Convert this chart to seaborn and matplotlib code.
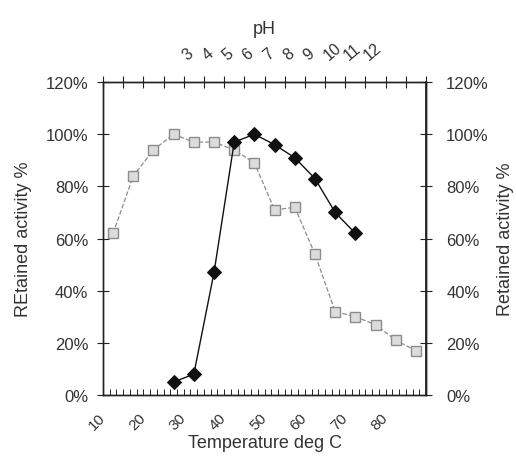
import matplotlib
matplotlib.use('Agg')
import matplotlib.pyplot as plt
import matplotlib.ticker as mticker
import matplotlib.transforms as mtransforms
import seaborn as sns

# ---- data ----
temperature = [10, 15, 20, 25, 30, 35, 40, 45, 50, 55, 60, 65, 70, 75, 80, 85]
temp_activity = [62, 84, 94, 100, 97, 97, 94, 89, 71, 72, 54, 32, 30, 27, 21, 17]
ph_values = [3, 4, 5, 6, 7, 8, 9, 10, 11, 12]
ph_activity = [5, 8, 47, 97, 100, 96, 91, 83, 70, 62]
temp_tick_labels = [10, 20, 30, 40, 50, 60, 70, 80]
ph_tick_labels = [3, 4, 5, 6, 7, 8, 9, 10, 11, 12]
activity_ticks = [0, 20, 40, 60, 80, 100, 120]

sns.set_theme(style='white')
plt.rcParams['font.family'] = ['Liberation Sans', 'DejaVu Sans']
TXT = '#333333'
AXC = '#222222'

fig = plt.figure(figsize=(5.16, 4.77), dpi=100)
ax = fig.add_axes([0.1996, 0.1698, 0.626, 0.656])
ax_top = ax.twiny()

sns.lineplot(x=temperature, y=temp_activity, ax=ax, color='#8c8c8c',
             linestyle='--', linewidth=0.9, marker='s', markersize=6.5,
             markerfacecolor='#dcdcdc', markeredgecolor='#8c8c8c',
             markeredgewidth=1.0)
sns.lineplot(x=ph_values, y=ph_activity, ax=ax_top, color='#111111',
             linewidth=1.0, marker='D', markersize=7,
             markerfacecolor='#111111', markeredgecolor='#111111')

ax.set_xlim(7.5, 87.5)
ax_top.set_xlim(-0.5, 15.5)
ax.set_ylim(0, 120)

for a in (ax, ax_top):
    for s in a.spines.values():
        s.set_visible(True)
        s.set_color(AXC)
        s.set_linewidth(1.0)

# bottom axis
ax.set_xticks(temp_tick_labels)
ax.set_xticklabels([str(t) for t in temp_tick_labels], rotation=45,
                   ha='right', rotation_mode='anchor', color=TXT)
ax.tick_params(axis='x', which='major', length=0, labelsize=11, pad=11,
               bottom=True, top=False)
ax.xaxis.set_minor_locator(mticker.MultipleLocator(5 / 3, offset=7.5 % (5 / 3)))
ax.tick_params(axis='x', which='minor', direction='in', length=4,
               width=0.7, color=AXC, bottom=True, top=False)
off = mtransforms.ScaledTranslation(-11 / 72, 0, fig.dpi_scale_trans)
for lab in ax.get_xticklabels():
    lab.set_transform(lab.get_transform() + off)
ax.set_xlabel('Temperature deg C', fontsize=13, color=TXT, labelpad=1)

# top axis (pH)
ax_top.set_xticks(ph_tick_labels)
ax_top.set_xticklabels([str(p) for p in ph_tick_labels], rotation=40,
                       ha='left', rotation_mode='anchor', color=TXT)
ax_top.tick_params(axis='x', which='major', length=0, labelsize=11.5, pad=14,
                   top=True, bottom=False)
ax_top.xaxis.set_minor_locator(mticker.MultipleLocator(1, offset=0.5))
ax_top.tick_params(axis='x', which='minor', direction='inout', length=9,
                   width=0.8, color=AXC, top=True, bottom=False)
off2 = mtransforms.ScaledTranslation(11 / 72, 0, fig.dpi_scale_trans)
for lab in ax_top.get_xticklabels():
    lab.set_transform(lab.get_transform() + off2)
ax_top.set_xlabel('pH', fontsize=13, color=TXT, labelpad=5)
ax_top.set_ylabel('')

# left y axis
ax.set_yticks(activity_ticks)
ax.yaxis.set_major_formatter(mticker.FuncFormatter(lambda v, p: f'{v:.0f}%'))
ax.tick_params(axis='y', direction='inout', length=9, width=0.8, color=AXC,
               labelsize=12, labelcolor=TXT, pad=6, left=True)
ax.set_ylabel('REtained activity %', fontsize=13, color=TXT, labelpad=10)

# right y axis
sec = ax.secondary_yaxis('right')
sec.set_yticks(activity_ticks)
sec.yaxis.set_major_formatter(mticker.FuncFormatter(lambda v, p: f'{v:.0f}%'))
sec.tick_params(axis='y', direction='inout', length=9, width=0.8, color=AXC,
                labelsize=12, labelcolor=TXT, pad=10)
sec.spines['right'].set_color(AXC)
sec.set_ylabel('Retained activity %', fontsize=13, color=TXT, labelpad=6)

fig.savefig('out.png', dpi=100, facecolor='white')
